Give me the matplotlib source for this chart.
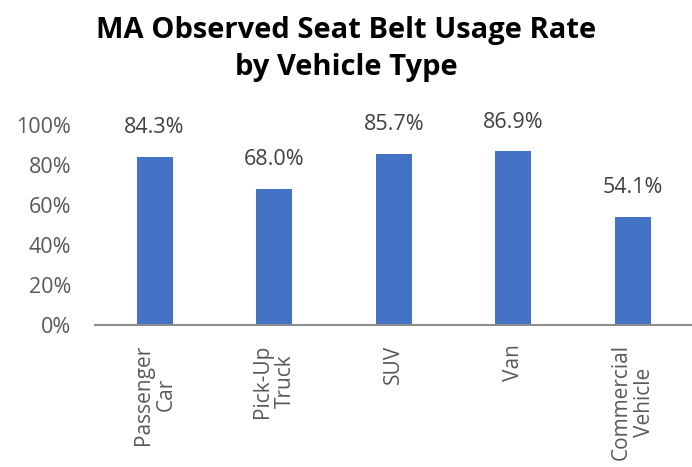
import matplotlib.pyplot as plt
import numpy as np

categories = ["Passenger\nCar", "Pick-Up\nTruck", "SUV", "Van", "Commercial\nVehicle"]
usage_rate = [84.3, 68.0, 85.7, 86.9, 54.1]
y_ticks = [0, 20, 40, 60, 80, 100]
y_tick_labels = ["0%", "20%", "40%", "60%", "80%", "100%"]

plt.rcParams['font.family'] = ['Open Sans', 'DejaVu Sans']

fig = plt.figure(figsize=(6.92, 4.67), dpi=100)
ax = fig.add_axes([0.137, 0.304, 0.864, 0.428])

x = np.arange(len(categories))
bars = ax.bar(x, usage_rate, width=0.3, color='#4472C4')

for xi, v in zip(x, usage_rate):
    ax.annotate("%.1f%%" % v, (xi, v), xytext=(0, 21), textcoords='offset points',
                ha='center', va='center', fontsize=15.5, color='#404040')

ax.set_xlim(-0.5, len(categories) - 0.5)
ax.set_ylim(0, 100)
ax.set_yticks(y_ticks)
ax.set_yticklabels(y_tick_labels, fontsize=15.5, color='#595959')
ax.set_xticks(x)
ax.set_xticklabels(categories, rotation=90, fontsize=15, color='#595959',
                   multialignment='center', va='top', ha='center', linespacing=1.1)
ax.tick_params(axis='y', length=0, pad=17)
ax.tick_params(axis='x', length=0, pad=14)

for s in ['top', 'right', 'left']:
    ax.spines[s].set_visible(False)
ax.spines['bottom'].set_color('#8c8c8c')
ax.spines['bottom'].set_linewidth(1.5)

fig.text(0.5, 0.895, "MA Observed Seat Belt Usage Rate\nby Vehicle Type", ha='center', va='center',
         fontsize=21, fontweight='bold', color='black', linespacing=1.35)

fig.savefig('out.png', dpi=100)
